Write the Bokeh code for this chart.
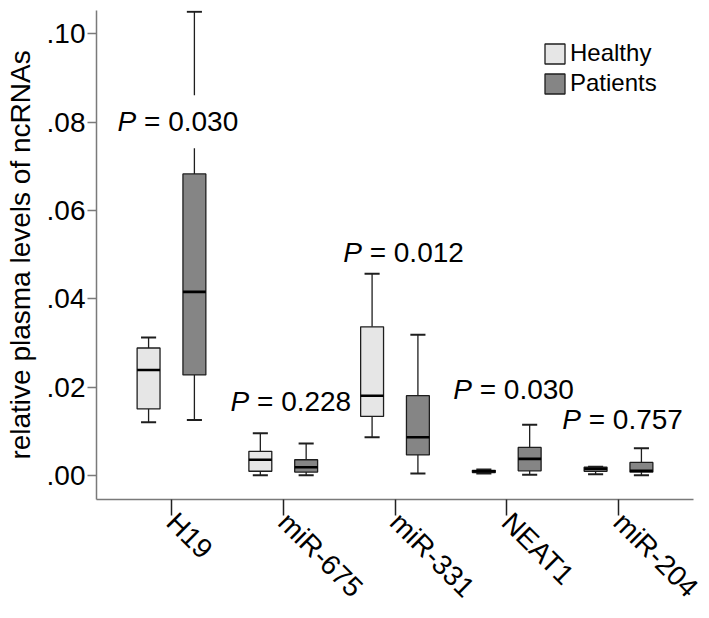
import math
from bokeh.plotting import figure
from bokeh.models import Range1d, FixedTicker, CustomJSTickFormatter, Legend, LegendItem, ColumnDataSource
from bokeh.core.properties import value
from bokeh.embed import file_html
from bokeh.resources import INLINE

categories = ["H19", "miR-675", "miR-331", "NEAT1", "miR-204"]

healthy_low  = [0.0121, 0.0001, 0.0087, 0.0005, 0.0003]
healthy_q1   = [0.0151, 0.0010, 0.0134, 0.0007, 0.0010]
healthy_med  = [0.0239, 0.0036, 0.0181, 0.0010, 0.0015]
healthy_q3   = [0.0289, 0.0055, 0.0337, 0.0012, 0.0019]
healthy_high = [0.0313, 0.0096, 0.0457, 0.0014, 0.0020]

patient_low  = [0.0126, 0.0001, 0.0005, 0.0002, 0.0001]
patient_q1   = [0.0228, 0.0008, 0.0047, 0.0011, 0.0008]
patient_med  = [0.0416, 0.0019, 0.0087, 0.0038, 0.0011]
patient_q3   = [0.0683, 0.0036, 0.0181, 0.0064, 0.0030]
patient_high = [0.1050, 0.0073, 0.0319, 0.0115, 0.0062]

p_values = ["0.030", "0.228", "0.012", "0.030", "0.757"]
# label anchors (left edge, baseline) in data units
p_label_x = [0.517, 1.528, 2.536, 3.521, 4.496]
p_label_y = [0.0801, 0.0167, 0.0506, 0.0194, 0.0126]

y_ticks = [0.0, 0.02, 0.04, 0.06, 0.08, 0.10]

FONT = "Liberation Sans"
HEALTHY_FILL = "#e6e6e6"
PATIENT_FILL = "#858585"
EDGE = "#1e1e1e"
AXIS = "#7a7a7a"

p = figure(width=709, height=618, output_backend="svg", toolbar_location=None,
           x_range=Range1d(0.329, 5.671), y_range=Range1d(-0.0054, 0.1053),
           min_border_left=96, min_border_right=16, min_border_top=10, min_border_bottom=119)
p.outline_line_color = None
p.xgrid.visible = False
p.ygrid.visible = False
p.background_fill_color = "white"
p.border_fill_color = "white"

offset = 0.205
box_w = 0.205
cap_w = 0.135

idx = list(range(1, len(categories) + 1))

def draw_group(xs, low, q1, med, q3, high, fill):
    src = ColumnDataSource(dict(
        x=xs, low=low, q1=q1, med=med, q3=q3, high=high,
        left=[x - box_w / 2 for x in xs], right=[x + box_w / 2 for x in xs],
        cl=[x - cap_w / 2 for x in xs], cr=[x + cap_w / 2 for x in xs]))
    p.segment(x0="x", y0="low", x1="x", y1="q1", source=src, line_color=EDGE, line_width=1.3)
    p.segment(x0="x", y0="q3", x1="x", y1="high", source=src, line_color=EDGE, line_width=1.3)
    p.segment(x0="cl", y0="low", x1="cr", y1="low", source=src, line_color=EDGE, line_width=2)
    p.segment(x0="cl", y0="high", x1="cr", y1="high", source=src, line_color=EDGE, line_width=2)
    r = p.vbar(x="x", width=box_w, bottom="q1", top="q3", source=src,
               fill_color=fill, line_color=EDGE, line_width=1.3)
    p.segment(x0="left", y0="med", x1="right", y1="med", source=src, line_color="black", line_width=2.6)
    return r

r_h = draw_group([i - offset for i in idx], healthy_low, healthy_q1, healthy_med, healthy_q3, healthy_high, HEALTHY_FILL)
r_p = draw_group([i + offset for i in idx], patient_low, patient_q1, patient_med, patient_q3, patient_high, PATIENT_FILL)

# P-value labels: italic P, then "= value"
PAD = 11
lab_src = ColumnDataSource(dict(x=p_label_x, y=p_label_y, P=["P"] * len(p_values)))
first_src = ColumnDataSource(dict(x=p_label_x[:1], y=p_label_y[:1], rest=["= " + p_values[0]]))
other_src = ColumnDataSource(dict(x=p_label_x[1:], y=p_label_y[1:], rest=["= " + v for v in p_values[1:]]))
p.text(x="x", y="y", text="rest", source=first_src, x_offset=26.5 - PAD, text_font=value(FONT),
       text_font_size="28px", text_color="black", text_baseline="alphabetic", text_align="left",
       background_fill_color="white", padding=PAD)
p.text(x="x", y="y", text="rest", source=other_src, x_offset=26.5, text_font=value(FONT),
       text_font_size="28px", text_color="black", text_baseline="alphabetic", text_align="left")
p.text(x="x", y="y", text="P", source=lab_src, text_font=value(FONT), text_font_style="italic",
       text_font_size="28px", text_color="black", text_baseline="alphabetic", text_align="left")

# axes
yax = p.yaxis[0]
yax.ticker = FixedTicker(ticks=y_ticks)
yax.formatter = CustomJSTickFormatter(code="return tick.toFixed(2).replace(/^0/, '');")
yax.axis_label = "relative plasma levels of ncRNAs"
yax.axis_label_text_font = FONT
yax.axis_label_text_font_size = "28px"
yax.axis_label_text_font_style = "normal"
yax.axis_label_text_color = "black"
yax.axis_label_standoff = 8
yax.major_label_text_font = FONT
yax.major_label_text_font_size = "28px"
yax.major_label_text_color = "black"
yax.major_label_standoff = 2
yax.major_tick_out = 9
yax.major_tick_in = 0
yax.minor_tick_out = 0
yax.minor_tick_in = 0
yax.axis_line_color = AXIS
yax.axis_line_width = 1.5
yax.major_tick_line_color = AXIS
yax.major_tick_line_width = 1.5

xax = p.xaxis[0]
xax.axis_label = None
xax.ticker = FixedTicker(ticks=idx)
xax.major_label_overrides = {i: c for i, c in zip(idx, categories)}
xax.major_label_orientation = -math.pi / 4
xax.major_label_text_font = FONT
xax.major_label_text_font_size = "28px"
xax.major_label_text_color = "black"
xax.major_label_standoff = 2
xax.major_tick_out = 16
xax.major_tick_in = 0
xax.minor_tick_out = 0
xax.minor_tick_in = 0
xax.axis_line_color = AXIS
xax.axis_line_width = 1.5
xax.major_tick_line_color = "#222222"
xax.major_tick_line_width = 1.5

legend = Legend(items=[LegendItem(label="Healthy", renderers=[r_h]),
                       LegendItem(label="Patients", renderers=[r_p])],
                location=(446, 402), orientation="vertical",
                glyph_width=25, glyph_height=25, label_standoff=3, spacing=2,
                padding=0, margin=0, border_line_color=None, background_fill_alpha=0,
                label_text_font=FONT, label_text_font_size="24px", label_text_color="black",
                label_height=23)
p.add_layout(legend)

open("out.html", "w").write(file_html(p, INLINE))
